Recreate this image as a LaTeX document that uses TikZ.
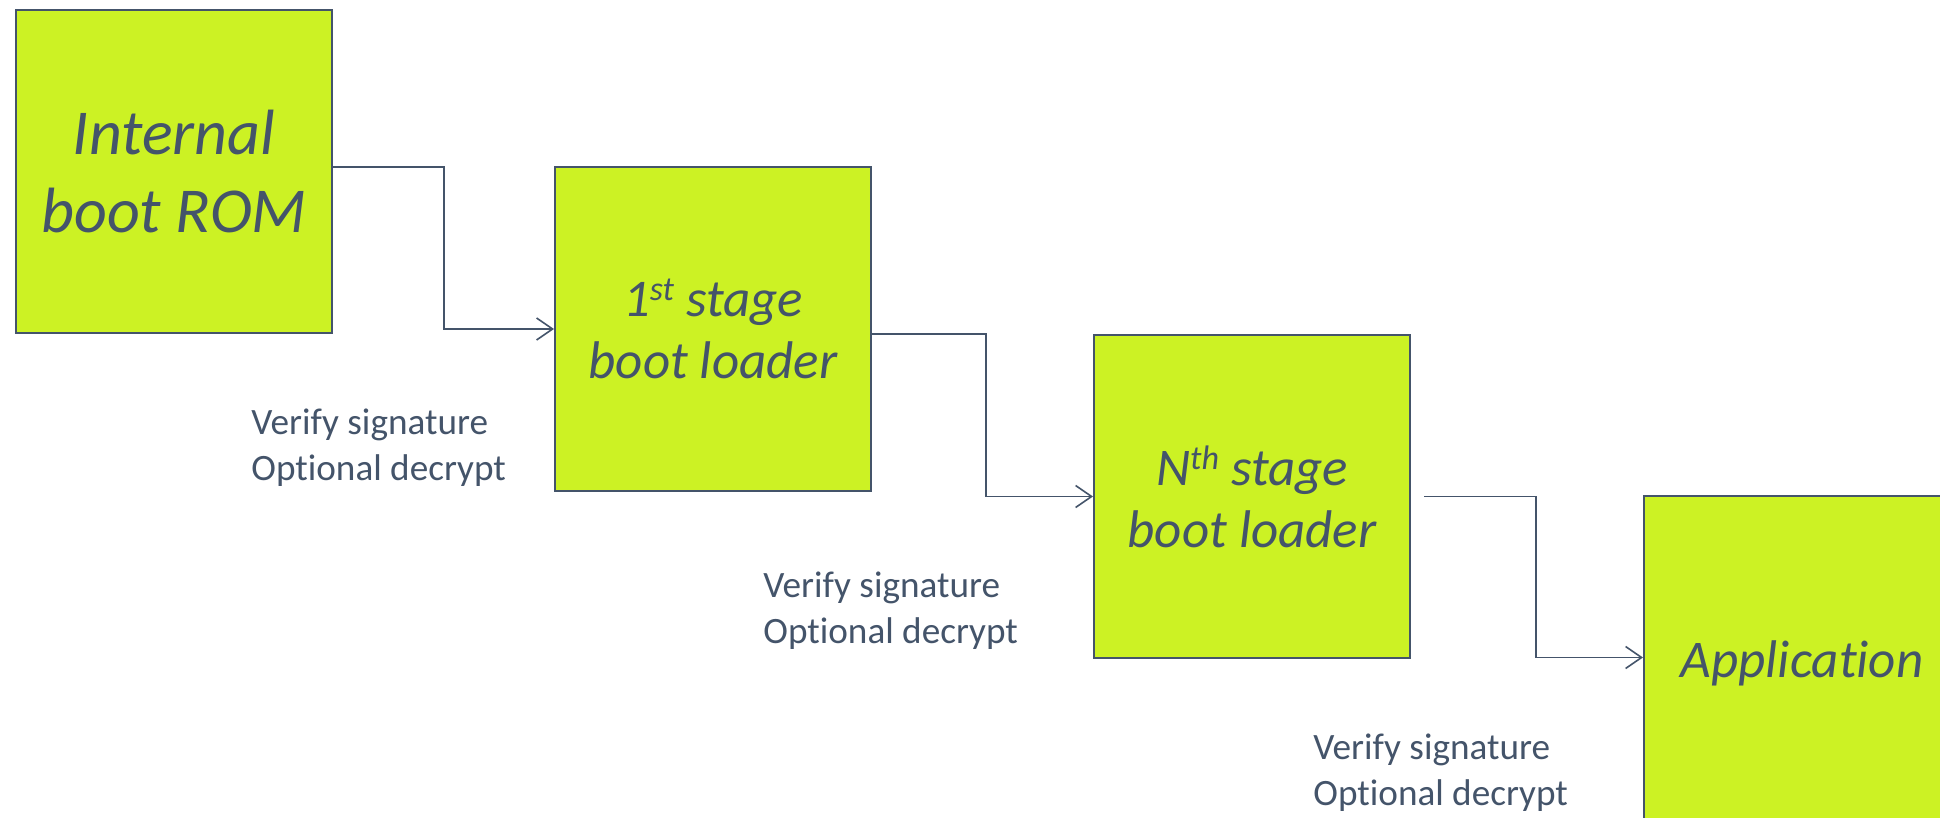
\documentclass[tikz,border=0pt]{standalone}
\usepackage{fontspec}
\setmainfont{Carlito}[Ligatures=NoCommon]
\usetikzlibrary{arrows.meta,calc}
\definecolor{lime}{RGB}{204,242,36}
\definecolor{slate}{RGB}{68,84,106}
\newcommand\supr[1]{\raisebox{0.3em}{\fontsize{17}{17}\selectfont #1}}
\begin{document}
\begin{tikzpicture}[x=0.5pt,y=-0.5pt,
  stage/.style={draw=slate, line width=1pt, fill=lime, minimum width=158pt, minimum height=161.5pt, inner sep=0pt, align=center, text=slate, font=\itshape\fontsize{26.5}{31}\selectfont},
  note/.style={anchor=west, align=left, text=slate, inner sep=0pt, font=\fontsize{18.6}{23}\selectfont},
  arr/.style={draw=slate, line width=0.8pt, -{Straight Barb[length=8pt,width=11pt,line width=0.8pt]}}]
\clip (0,0) rectangle (1940,818);
\fill[white] (0,0) rectangle (1940,818);
\node[stage, font=\itshape\fontsize{32}{39}\selectfont] (rom) at (174,171.5) {Internal\\boot ROM};
\node[stage] (first) at (713,329) {1\supr{st} stage\\boot loader};
\node[stage] (nth) at (1252,496.5) {N\supr{th} stage\\boot loader};
\node[stage] (app) at (1802,657.5) {\raisebox{-3pt}[\height][\depth]{Application}};
\draw[arr] ([yshift=2.25pt]rom.east) -- ++(111,0) |- (first.west);
\draw[arr] ([yshift=-2.5pt]first.east) -- ++(114,0) |- (nth.west);
\draw[arr] ([xshift=6.5pt]nth.east) -- ++(112,0) |- (app.west);
\node[note] (l1) at (251,448) {Verify signature\\Optional decrypt};
\node[note] (l2) at (763,611) {Verify signature\\Optional decrypt};
\node[note] (l3) at (1313,773) {Verify signature\\Optional decrypt};
\end{tikzpicture}
\end{document}
